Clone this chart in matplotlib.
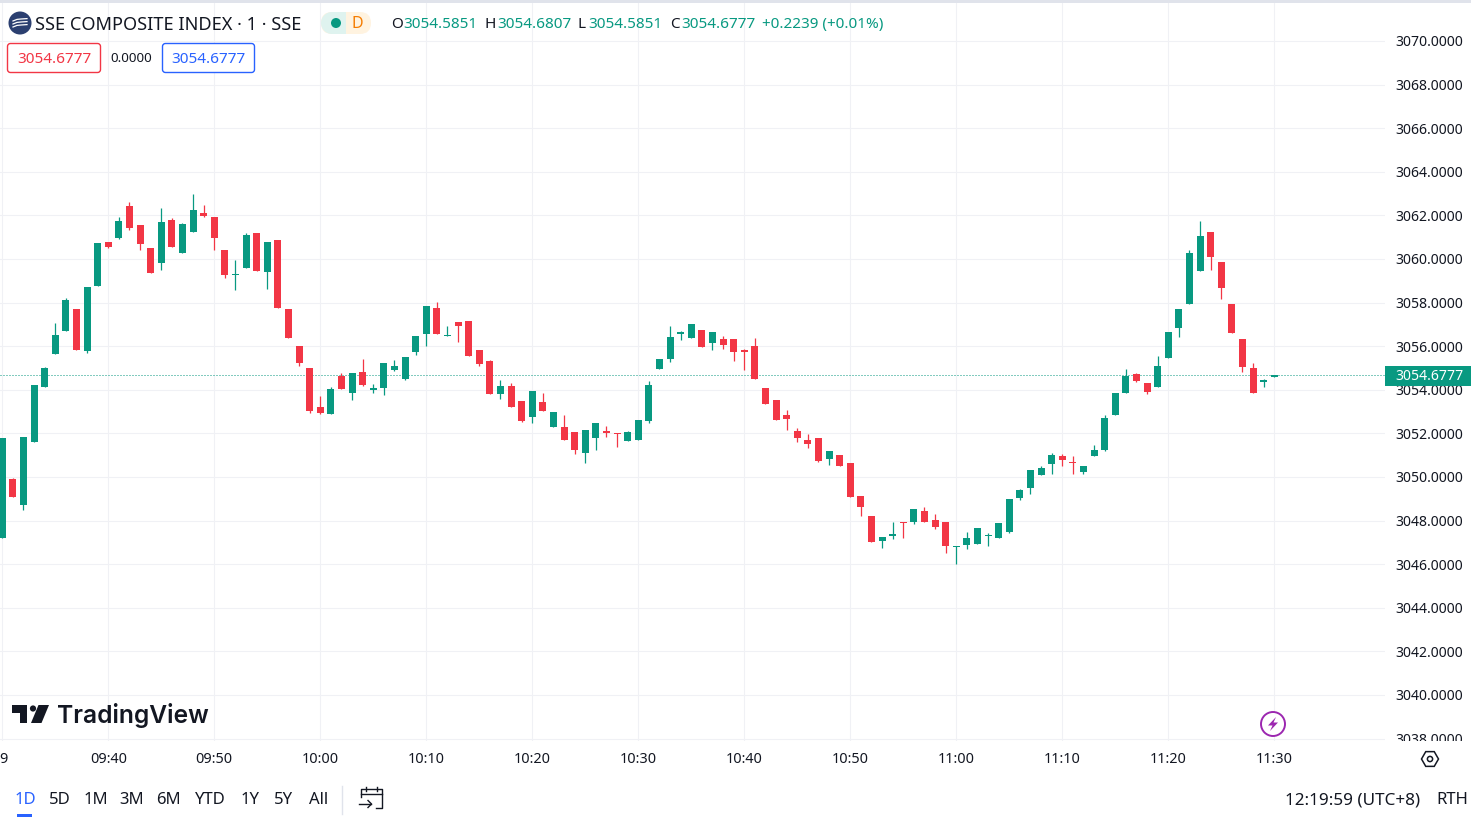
import matplotlib
matplotlib.use("Agg")
import matplotlib.pyplot as plt
from matplotlib.patches import Rectangle, FancyBboxPatch, Circle, Polygon, RegularPolygon, Wedge
from matplotlib.transforms import Bbox
import numpy as np

W, H = 1471, 822
UP = "#089981"
DOWN = "#f23645"
BLUE = "#2962ff"
TEXT = "#131722"
GRID = "#f0f1f5"

plt.rcParams["font.family"] = ["Noto Sans", "DejaVu Sans"]

# minute candles, first one is 09:30
opens = [
    3047.20, 3049.90, 3048.71, 3051.60, 3054.12, 3055.64, 3056.69, 3057.70, 3055.77, 3058.76,
    3060.77, 3060.96, 3062.43, 3061.55, 3060.50, 3059.81, 3061.78, 3060.27, 3061.23, 3062.10,
    3061.92, 3060.41, 3059.26, 3059.58, 3061.19, 3059.40, 3060.87, 3057.70, 3056.00, 3054.99,
    3053.20, 3052.88, 3054.63, 3053.85, 3054.81, 3053.98, 3054.07, 3054.90, 3054.49, 3055.73,
    3056.55, 3057.74, 3056.46, 3057.10, 3057.15, 3055.82, 3055.31, 3053.80, 3054.17, 3053.48,
    3052.74, 3053.43, 3052.29, 3052.29, 3052.06, 3051.09, 3051.79, 3052.11, 3052.02, 3051.65,
    3051.70, 3052.57, 3054.95, 3055.41, 3056.56, 3056.38, 3056.74, 3056.15, 3056.33, 3056.33,
    3055.83, 3056.01, 3054.08, 3053.53, 3052.84, 3052.11, 3051.70, 3051.79, 3050.83, 3051.01,
    3050.64, 3049.13, 3048.21, 3047.06, 3047.29, 3047.93, 3047.93, 3048.43, 3048.02, 3047.93,
    3046.78, 3046.88, 3046.92, 3047.29, 3047.20, 3047.47, 3049.03, 3049.49, 3050.09, 3050.59,
    3050.96, 3050.68, 3050.22, 3050.96, 3051.23, 3052.84, 3053.85, 3054.72, 3054.30, 3054.12,
    3055.45, 3056.83, 3057.93, 3059.44, 3061.23, 3059.85, 3057.93, 3056.32, 3054.99, 3054.35,
    3054.5851,
]
highs = [
    3051.78, 3049.95, 3051.83, 3054.22, 3055.04, 3057.06, 3058.21, 3057.70, 3058.71, 3060.73,
    3060.77, 3061.92, 3062.61, 3061.55, 3060.50, 3062.33, 3061.88, 3061.65, 3062.98, 3062.47,
    3061.92, 3060.41, 3059.95, 3061.19, 3061.19, 3060.77, 3060.87, 3057.70, 3056.00, 3054.99,
    3053.71, 3054.12, 3054.76, 3054.76, 3055.40, 3054.26, 3055.22, 3055.36, 3055.50, 3056.46,
    3057.84, 3058.02, 3056.92, 3057.10, 3057.15, 3055.82, 3055.36, 3054.44, 3054.30, 3053.48,
    3053.94, 3053.85, 3052.97, 3052.84, 3052.06, 3052.15, 3052.48, 3052.34, 3052.02, 3052.11,
    3052.61, 3054.40, 3055.41, 3056.93, 3056.70, 3057.02, 3056.74, 3056.65, 3056.47, 3056.33,
    3055.87, 3056.38, 3054.08, 3053.53, 3053.07, 3052.25, 3051.97, 3051.79, 3051.19, 3051.01,
    3050.64, 3049.13, 3048.21, 3047.25, 3047.93, 3047.93, 3048.53, 3048.62, 3048.30, 3047.93,
    3046.83, 3047.47, 3047.65, 3047.43, 3047.88, 3048.99, 3049.44, 3050.32, 3050.50, 3051.10,
    3051.05, 3050.96, 3050.50, 3051.46, 3052.84, 3053.85, 3054.95, 3054.77, 3054.30, 3055.54,
    3056.64, 3057.70, 3060.41, 3061.74, 3061.23, 3059.85, 3057.93, 3056.32, 3055.22, 3054.49,
    3054.6807,
]
lows = [
    3047.20, 3049.08, 3048.48, 3051.60, 3054.12, 3055.64, 3056.69, 3055.82, 3055.68, 3058.76,
    3060.50, 3060.91, 3061.33, 3060.41, 3059.35, 3059.49, 3060.55, 3060.27, 3061.23, 3061.92,
    3060.41, 3059.12, 3058.57, 3059.58, 3059.44, 3058.62, 3057.75, 3056.37, 3055.09, 3052.93,
    3052.88, 3052.88, 3054.03, 3053.52, 3054.17, 3053.85, 3053.75, 3054.85, 3054.44, 3055.59,
    3056.00, 3056.55, 3056.46, 3056.18, 3055.54, 3055.08, 3053.80, 3053.57, 3053.20, 3052.51,
    3052.47, 3053.02, 3052.29, 3051.69, 3051.05, 3050.63, 3051.23, 3051.83, 3051.38, 3051.65,
    3051.70, 3052.48, 3054.95, 3055.27, 3056.28, 3056.38, 3055.96, 3055.83, 3055.87, 3055.32,
    3054.91, 3054.49, 3053.35, 3052.61, 3052.16, 3051.60, 3051.33, 3050.69, 3050.55, 3050.50,
    3049.08, 3048.21, 3047.02, 3046.74, 3047.15, 3047.20, 3047.84, 3047.93, 3047.61, 3046.51,
    3046.00, 3046.69, 3046.92, 3046.83, 3047.20, 3047.43, 3048.94, 3049.21, 3050.09, 3050.13,
    3050.50, 3050.13, 3050.13, 3050.96, 3051.19, 3052.84, 3053.85, 3054.35, 3053.80, 3054.12,
    3055.45, 3056.41, 3057.93, 3059.44, 3059.49, 3058.16, 3056.60, 3054.81, 3053.85, 3054.12,
    3054.5851,
]
closes = [
    3051.78, 3049.08, 3051.83, 3054.22, 3054.99, 3056.51, 3058.11, 3055.82, 3058.71, 3060.73,
    3060.55, 3061.74, 3061.42, 3060.68, 3059.35, 3061.69, 3060.55, 3061.60, 3062.24, 3061.97,
    3060.96, 3059.26, 3059.31, 3061.10, 3059.44, 3060.77, 3057.75, 3056.37, 3055.22, 3053.02,
    3052.93, 3054.03, 3054.03, 3054.76, 3054.21, 3054.07, 3055.22, 3055.08, 3055.50, 3056.46,
    3057.84, 3056.55, 3056.51, 3056.92, 3055.54, 3055.18, 3053.80, 3054.17, 3053.20, 3052.56,
    3053.94, 3053.02, 3052.97, 3051.69, 3051.23, 3052.15, 3052.48, 3052.02, 3051.97, 3052.06,
    3052.61, 3054.22, 3055.41, 3056.42, 3056.65, 3057.02, 3055.96, 3056.65, 3056.05, 3055.73,
    3055.73, 3054.49, 3053.35, 3052.61, 3052.66, 3051.79, 3051.51, 3050.73, 3051.19, 3050.50,
    3049.08, 3048.62, 3047.02, 3047.25, 3047.38, 3047.88, 3048.53, 3047.93, 3047.70, 3046.83,
    3046.83, 3047.20, 3047.65, 3047.33, 3047.88, 3048.99, 3049.40, 3050.32, 3050.41, 3051.00,
    3050.77, 3050.64, 3050.50, 3051.23, 3052.70, 3053.85, 3054.63, 3054.40, 3053.89, 3055.08,
    3056.64, 3057.70, 3060.27, 3061.05, 3060.08, 3058.66, 3056.60, 3055.04, 3053.85, 3054.44,
    3054.6777,
]
last_price = 3054.6777

time_ticks = [10, 20, 30, 40, 50, 60, 70, 80, 90, 100, 110, 120]
time_labels = ["09:40", "09:50", "10:00", "10:10", "10:20", "10:30",
               "10:40", "10:50", "11:00", "11:10", "11:20", "11:30"]
price_ticks = list(range(3038, 3072, 2))
ranges = ["1D", "5D", "1M", "3M", "6M", "YTD", "1Y", "5Y", "All"]
range_x = [25, 60, 96, 132, 168, 210, 250, 284, 319]

fig = plt.figure(figsize=(W / 100, H / 100), dpi=100, facecolor="white")

# price pane, pixels 0-1385 across and 3-741 down
ax = fig.add_axes([0, 1 - 741 / H, 1385 / W, 738 / H])
ax.set_xlim(-0.217, 130.45)
ax.set_ylim(3037.89, 3071.74)
for s in ax.spines.values():
    s.set_visible(False)
ax.set_axisbelow(True)
ax.grid(True, color=GRID, linewidth=0.8)

ax.set_xticks([0] + time_ticks)
ax.set_xticklabels([""] + time_labels, fontsize=10.4, color=TEXT)
ax.tick_params(axis="x", length=0, pad=8)
ax.yaxis.tick_right()
ax.set_yticks(price_ticks)
ax.set_yticklabels(["%.4f" % p for p in price_ticks], fontsize=10.1, color=TEXT)
ax.tick_params(axis="y", length=0, pad=7.5)
clip = Bbox([[1386, H - 741], [W, H]])
for lab in ax.get_yticklabels():
    lab.set_clip_box(clip)
    lab.set_clip_on(True)

minutes = np.arange(len(opens))
o = np.array(opens)
c = np.array(closes)
colors = [UP if b >= a else DOWN for a, b in zip(opens, closes)]
ax.axhline(last_price, color=UP, linewidth=0.72, linestyle=(0, (1, 2)), zorder=2, snap=True)
ax.vlines(minutes, lows, highs, colors=colors, linewidth=0.9, zorder=3)
ax.bar(minutes, np.abs(c - o), bottom=np.minimum(o, c), width=0.66, color=colors, linewidth=0, zorder=4)

# everything around the chart is placed in screen pixels
ui = fig.add_axes([0, 0, 1, 1], facecolor="none")
ui.set_xlim(0, W)
ui.set_ylim(H, 0)
ui.axis("off")
ui.set_zorder(5)


def label(x, y, s, size=11, color=TEXT, ha="left", **kw):
    ui.text(x, y, s, fontsize=size, color=color, ha=ha, va="center", **kw)


ui.add_patch(Rectangle((0, 0), W, 3, color="#e0e3eb", lw=0))

# header
ui.add_patch(Circle((20, 23), 11.5, color="#2b3f70", lw=0))
for dy in (-2, 1, 4):
    xs = np.array([13, 17, 21, 27])
    ui.plot(xs, 23 + dy - np.array([0, 2, 2.5, 3]) * 0.8, color="white", lw=0.9)
label(35, 24.5, "SSE COMPOSITE INDEX · 1 · SSE", size=13.1)
ui.add_patch(FancyBboxPatch((321, 12), 50, 22, boxstyle="round,pad=0,rounding_size=11", fc="#fff3e0", ec="none"))
ui.add_patch(Wedge((332, 23), 11, 90, 270, fc="#dff3ef", ec="none"))
ui.add_patch(Rectangle((332, 12), 14, 22, fc="#dff3ef", ec="none"))
ui.add_patch(Circle((336, 23), 5, color=UP, lw=0))
label(357, 24, "D", size=11.5, color="#f57c00", ha="center", fontweight="bold")

label(391, 24.5, "O", size=11)
label(403, 24.5, "3054.5851", size=11, color=UP)
label(485, 24.5, "H", size=11)
label(497, 24.5, "3054.6807", size=11, color=UP)
label(578, 24.5, "L", size=11)
label(588, 24.5, "3054.5851", size=11, color=UP)
label(670, 24.5, "C", size=11)
label(681, 24.5, "3054.6777", size=11, color=UP)
label(762, 24.5, "+0.2239 (+0.01%)", size=11, color=UP)

ui.add_patch(FancyBboxPatch((7.5, 43.5), 93, 29, boxstyle="round,pad=0,rounding_size=3", fc="white", ec=DOWN, lw=1))
label(54, 59.5, "3054.6777", color=DOWN, ha="center")
label(131, 59, "0.0000", size=9.6, ha="center")
ui.add_patch(FancyBboxPatch((162.5, 43.5), 92, 29, boxstyle="round,pad=0,rounding_size=3", fc="white", ec=BLUE, lw=1))
label(208.5, 59.5, "3054.6777", color=BLUE, ha="center")

# last price tag
ui.add_patch(Rectangle((1385, 366), 86, 20, color=UP, lw=0))
label(1395, 376, "3054.6777", size=10.1, color="white")

# watermark
logo = "#131722"
ui.add_patch(Polygon([(12, 705), (27.5, 705), (27.5, 723), (20, 723), (20, 712.5), (12, 712.5)], color=logo, lw=0))
ui.add_patch(Circle((33, 708.5), 3.1, color=logo, lw=0))
ui.add_patch(Polygon([(38.5, 705), (49, 705), (41.5, 723), (31, 723)], color=logo, lw=0))
label(57, 715.5, "TradingView", size=17.7, family=["Inter", "Noto Sans"], fontweight="semibold")

# lightning badge
ui.add_patch(Circle((1273, 724), 12, fc="white", ec="#9c27b0", lw=1.4))
ui.add_patch(Polygon([(1276, 717), (1268, 725.5), (1272.5, 725.5), (1270, 731), (1278, 722.5), (1273.5, 722.5)], color="#9c27b0", lw=0))

# cut off day label at the left edge of the time axis
label(-1, 759, "9", size=10.4, fontweight="bold", clip_on=True)
ui.add_patch(RegularPolygon((1430, 759), 6, radius=8.5, orientation=np.pi / 2, fc="white", ec=TEXT, lw=1.1))
ui.add_patch(Circle((1430, 759), 2.6, fc="white", ec=TEXT, lw=1.1))

# bottom toolbar
for name, x in zip(ranges, range_x):
    label(x, 800, name, size=12, color=BLUE if name == "1D" else TEXT, ha="center")
ui.add_patch(Rectangle((17, 814), 15, 2.5, color=BLUE, lw=0))
ui.plot([342.5, 342.5], [786, 814], color="#e0e3eb", lw=1)
ui.plot([361, 361, 382, 382, 376], [797, 789, 789, 808, 808], color=TEXT, lw=1)
ui.plot([361, 382], [794, 794], color=TEXT, lw=1)
ui.plot([366, 366], [787, 791], color=TEXT, lw=1)
ui.plot([377, 377], [787, 791], color=TEXT, lw=1)
ui.plot([359, 371], [804, 804], color=TEXT, lw=1)
ui.plot([368, 371.5, 368], [800.5, 804, 807.5], color=TEXT, lw=1)
label(1285, 800, "12:19:59 (UTC+8)", size=12.3)
label(1436, 800, "RTH", size=12)

fig.savefig("out.png", dpi=100)
